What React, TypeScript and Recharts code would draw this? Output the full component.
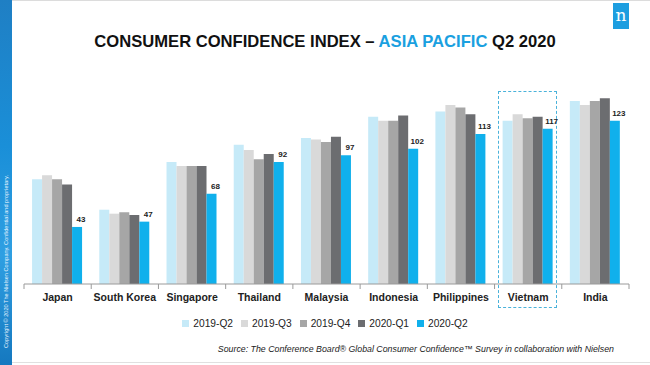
import React from "react";
import { BarChart, Bar, XAxis, YAxis, LabelList } from "recharts";

const countries = ["Japan", "South Korea", "Singapore", "Thailand", "Malaysia", "Indonesia", "Philippines", "Vietnam", "India"];
const q2_2019 = [79, 56, 92, 105, 110, 126, 130, 123, 138];
const q3_2019 = [82, 53, 89, 101, 109, 123, 135, 128, 135];
const q4_2019 = [79, 54, 89, 94, 107, 123, 133, 125, 138];
const q1_2020 = [75, 52, 89, 98, 111, 127, 128, 126, 140];
const q2_2020 = [43, 47, 68, 92, 97, 102, 113, 117, 123];

const seriesNames = ["2019-Q2", "2019-Q3", "2019-Q4", "2020-Q1", "2020-Q2"];
const seriesColors = ["#c6eaf8", "#d9d9d9", "#a6a6a6", "#6c6d70", "#10b0ec"];

const data = countries.map((c, i) => ({
  name: c,
  "2019-Q2": q2_2019[i],
  "2019-Q3": q3_2019[i],
  "2019-Q4": q4_2019[i],
  "2020-Q1": q1_2020[i],
  "2020-Q2": q2_2020[i],
}));

const W = 650;
const H = 365;
const margin = { top: 85, right: 21, bottom: 51, left: 24 };
const band = (W - margin.left - margin.right) / countries.length;

const Tick = (props: any) => {
  const { x, y, payload, index } = props;
  const left = x - band / 2;
  const right = x + band / 2;
  return (
    <g>
      <line x1={left} y1={y - 8} x2={left} y2={y - 3} stroke="#9a9a9a" strokeWidth={1} />
      {index === countries.length - 1 && (
        <line x1={right} y1={y - 8} x2={right} y2={y - 3} stroke="#9a9a9a" strokeWidth={1} />
      )}
      <text x={x} y={y + 9} textAnchor="middle" fontSize={10.5} fontWeight={600} fill="#222" fontFamily="Liberation Sans, Arial, sans-serif">
        {payload.value}
      </text>
    </g>
  );
};

export default function App() {
  return (
    <div style={{ position: "absolute", left: 0, top: 0, width: W, height: H, background: "#fff", overflow: "hidden", fontFamily: "Liberation Sans, Arial, sans-serif" }}>
      <div style={{ position: "absolute", left: 0, top: 0, width: 12, height: H, background: "linear-gradient(180deg, #1f7fc4 0%, #1a8fd8 40%, #2f9fe2 70%, #1578bf 100%)" }} />
      <div style={{ position: "absolute", left: 3, top: 348, transform: "rotate(-90deg)", transformOrigin: "0 0", whiteSpace: "nowrap", fontSize: 5.6, color: "#e8f4ff", lineHeight: "7px" }}>
        Copyright © 2020 The Nielsen Company. Confidential and proprietary.
      </div>
      <div style={{ position: "absolute", left: 12, top: 0, width: W - 12, height: 1, background: "#dcdcdc" }} />
      <div style={{ position: "absolute", left: 12, top: 362, width: W - 12, height: 1, background: "#e0e0e0" }} />
      <div style={{ position: "absolute", left: 613, top: 3, width: 16, height: 26, background: "#1d9ee0", color: "#fff", fontSize: 17, lineHeight: "24px", textAlign: "center", fontFamily: "DejaVu Serif, serif" }}>
        n
      </div>
      <div style={{ position: "absolute", left: 0, width: W, top: 32, textAlign: "center", fontSize: 16.6, fontWeight: 700, color: "#111" }}>
        CONSUMER CONFIDENCE INDEX – <span style={{ color: "#1aa0e0" }}>ASIA PACIFIC</span> Q2 2020
      </div>
      <div style={{ position: "absolute", left: 498, top: 91, width: 59, height: 217, border: "1.5px dashed #4ab2da", boxSizing: "border-box" }} />
      <div style={{ position: "absolute", left: 0, width: W, top: 318, display: "flex", justifyContent: "center", fontSize: 10.2, color: "#222", paddingLeft: 4 }}>
        {seriesNames.map((s, i) => (
          <div key={s} style={{ display: "flex", alignItems: "center", marginRight: 8 }}>
            <span style={{ display: "inline-block", width: 7, height: 7, background: seriesColors[i], marginRight: 4 }} />
            <span>{s}</span>
          </div>
        ))}
      </div>
      <div style={{ position: "absolute", right: 36, top: 344, fontSize: 8.8, fontStyle: "italic", color: "#222", whiteSpace: "nowrap" }}>
        Source: The Conference Board® Global Consumer Confidence™ Survey in collaboration with Nielsen
      </div>
      <div style={{ position: "absolute", left: 0, top: 0 }}>
        <BarChart width={W} height={H} data={data} margin={margin} barCategoryGap="12%" barGap={0}>
          <XAxis dataKey="name" axisLine={{ stroke: "#9a9a9a" }} tickLine={false} tick={<Tick />} interval={0} height={30} />
          <YAxis hide domain={[0, 150]} />
          {seriesNames.map((s, i) => (
            <Bar key={s} dataKey={s} fill={seriesColors[i]} isAnimationActive={false}>
              {i === 4 && (
                <LabelList dataKey={s} position="top" dx={4} fontSize={8} fontWeight={700} fill="#222" />
              )}
            </Bar>
          ))}
        </BarChart>
      </div>
    </div>
  );
}
